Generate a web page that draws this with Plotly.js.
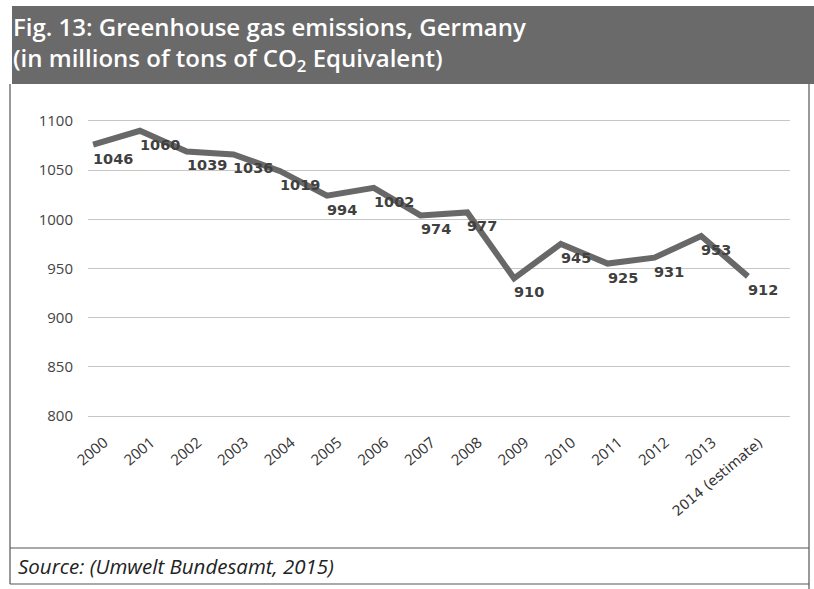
<!DOCTYPE html>
<html>
<head>
<meta charset="utf-8">
<script src="https://cdn.plot.ly/plotly-3.0.1.min.js"></script>
<style>
  html, body { margin: 0; padding: 0; background: #ffffff; }
  #chart { width: 814px; height: 589px; }
</style>
</head>
<body>
<div id="chart"></div>
<script>
// Greenhouse gas emissions, Germany (million t CO2 equivalent)
const years = ['2000', '2001', '2002', '2003', '2004', '2005', '2006', '2007',
               '2008', '2009', '2010', '2011', '2012', '2013', '2014 (estimate)'];
const emissions = [1046, 1060, 1039, 1036, 1019, 994, 1002, 974,
                   977, 910, 945, 925, 931, 953, 912];

// Category tick labels (the estimate year is set in a different face)
const xTickText = ['2000', '2001', '2002', '2003', '2004', '2005', '2006', '2007',
                   '2008', '2009', '2010', '2011', '2012', '2013',
                   '<span style="font-family:DejaVu Sans;font-size:14px">2014 (estimate)</span>'];

// Value-axis grid: printed labels and the values they sit at
const yTickText = ['800', '850', '900', '950', '1000', '1050', '1100'];
const yTickVals = [770, 820, 870, 920, 970, 1020, 1070];

const W = 814, H = 589;
const M = { l: 88, r: 24, t: 119, b: 171 };
const PW = W - M.l - M.r, PH = H - M.t - M.b;
// pixel -> paper helpers for the frame decoration
const px = x => (x - M.l) / PW;
const py = y => (H - M.b - y) / PH;

const traces = [{
  type: 'scatter',
  mode: 'lines',
  x: years,
  y: emissions,
  line: { color: '#686868', width: 6 },
  hoverinfo: 'skip'
}];

// value labels, set just below and to the right of each point
// (x is the category index, so numeric-looking year names stay categories)
const valueLabels = years.map((yr, i) => ({
  xref: 'x', yref: 'y', x: i, y: emissions[i],
  xanchor: 'left', yanchor: 'top', xshift: -2, yshift: -4,
  showarrow: false,
  text: String(emissions[i]),
  font: { family: 'DejaVu Sans', size: 14.5, color: '#404040', weight: 'bold' }
}));

const frameLine = { color: '#555555', width: 1.2 };

const layout = {
  width: W, height: H,
  margin: M,
  paper_bgcolor: '#ffffff',
  plot_bgcolor: 'rgba(0,0,0,0)',
  showlegend: false,
  font: { family: 'Open Sans', color: '#333333' },
  xaxis: {
    type: 'category',
    range: [-0.11, 14.9],
    tickmode: 'array',
    tickvals: years,
    ticktext: xTickText,
    showgrid: false, showline: false, zeroline: false,
    ticks: '',
    tickangle: -40,
    ticklabelshift: 11,
    ticklabelstandoff: 12,
    tickfont: { family: 'Open Sans', size: 15, color: '#333333' }
  },
  yaxis: {
    range: [768, 1072],
    tickvals: yTickVals,
    ticktext: yTickText,
    showgrid: true,
    gridcolor: '#c6c6c6',
    gridwidth: 1,
    zeroline: false, showline: false,
    ticks: '',
    ticklabelstandoff: 14,
    tickfont: { family: 'Open Sans', size: 15, color: '#444444' }
  },
  shapes: [
    // header band
    { type: 'rect', xref: 'paper', yref: 'paper', layer: 'below',
      x0: px(12), x1: px(814), y0: py(84), y1: py(6),
      fillcolor: '#6a6a6a', line: { width: 0 } },
    // chart box and source box
    { type: 'line', xref: 'paper', yref: 'paper', x0: px(10), x1: px(10), y0: py(84), y1: py(584), line: frameLine },
    { type: 'line', xref: 'paper', yref: 'paper', x0: px(809), x1: px(809), y0: py(84), y1: py(589), line: frameLine },
    { type: 'line', xref: 'paper', yref: 'paper', x0: px(10), x1: px(809), y0: py(548), y1: py(548), line: frameLine },
    { type: 'line', xref: 'paper', yref: 'paper', x0: px(10), x1: px(809), y0: py(584), y1: py(584), line: frameLine }
  ],
  annotations: valueLabels.concat([
    { xref: 'paper', yref: 'paper', x: px(11), y: py(8), xanchor: 'left', yanchor: 'top',
      align: 'left', showarrow: false,
      text: 'Fig. 13: Greenhouse gas emissions, Germany<br>(in millions of tons of CO<sub>2</sub> Equivalent)',
      font: { family: 'Open Sans', size: 24, color: '#ffffff', weight: 600 } },
    { xref: 'paper', yref: 'paper', x: px(16), y: py(566), xanchor: 'left', yanchor: 'middle',
      showarrow: false,
      text: 'Source: (Umwelt Bundesamt, 2015)',
      font: { family: 'Open Sans', size: 20.5, color: '#222222', style: 'italic' } }
  ])
};

Plotly.newPlot('chart', traces, layout, { displayModeBar: false, staticPlot: true });
</script>
</body>
</html>
